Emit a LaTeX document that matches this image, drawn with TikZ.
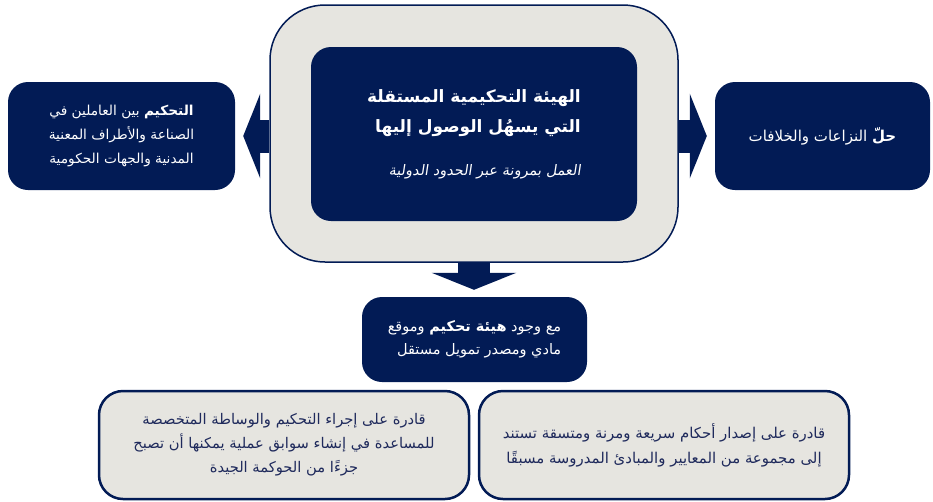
\documentclass[tikz,border=0pt]{standalone}
\usepackage{fontspec}
\usetikzlibrary{arrows.meta, positioning}
\TeXXeTstate=1
\newfontfamily\arabicfont[Script=Arabic]{DejaVu Sans}
\newfontfamily\arabicslant[Script=Arabic, FakeSlant=0.15]{DejaVu Sans}
\definecolor{navy}{HTML}{021B55}
\definecolor{paper}{HTML}{E6E5E0}
\definecolor{inknavy}{HTML}{1F2A5C}

\tikzset{
	darkbox/.style={fill=navy, draw=none, rounded corners=20pt, text=white, align=center,
		font=\arabicfont\fontsize{13.7}{24}\selectfont},
	lightbox/.style={fill=paper, draw=navy, line width=2.5pt, rounded corners=24pt, text=inknavy, align=center,
		font=\arabicfont\fontsize{14.7}{24}\selectfont},
	blockarrow/.style={draw=navy, line width=33pt, -{Triangle[length=17pt, width=84pt]}},
}

\begin{document}
\begin{tikzpicture}[x=1pt, y=-1pt]
	\useasboundingbox (0,0) rectangle (933,501);

	% central body
	\node[lightbox, line width=1.5pt, rounded corners=55pt, minimum width=408pt, minimum height=257pt] (outer) at (474,133.5) {};
	\node[darkbox, align=right, font=\arabicfont\fontsize{17}{30}\selectfont,
		minimum width=326pt, minimum height=174pt] (inner) at (474,134)
		{{\bfseries\beginR الهيئة التحكيمية المستقلة\endR}\\
		 {\bfseries\beginR التي يسهُل الوصول إليها\endR}\\[13pt]
		 {\arabicslant\fontsize{14.5}{20}\selectfont\beginR العمل بمرونة عبر الحدود الدولية\endR}};

	% side boxes
	\node[darkbox, minimum width=227pt, minimum height=108pt] (left) at (121.5,136)
		{\beginR{\bfseries التحكيم} بين العاملين في\endR\\
		 \beginR الصناعة والأطراف المعنية\endR\\
		 \beginR المدنية والجهات الحكومية\endR};
	\node[darkbox, font=\arabicfont\fontsize{15}{24}\selectfont, minimum width=215pt, minimum height=108pt] (right) at (822.5,136)
		{\beginR{\bfseries حلّ} النزاعات والخلافات\endR};

	% lower boxes
	\node[darkbox, align=right, font=\arabicfont\fontsize{14.5}{22.5}\selectfont,
		minimum width=225pt, minimum height=85pt] (mid) at (474.5,339.5)
		{\beginR مع وجود {\bfseries هيئة تحكيم} وموقع\endR\\
		 \beginR مادي ومصدر تمويل مستقل\endR};
	\node[lightbox, minimum width=370pt, minimum height=108pt] (lowleft) at (284,445)
		{\beginR قادرة على إجراء التحكيم والوساطة المتخصصة\endR\\
		 \beginR للمساعدة في إنشاء سوابق عملية يمكنها أن تصبح\endR\\
		 \beginR جزءًا من الحوكمة الجيدة\endR};
	\node[lightbox, font=\arabicfont\fontsize{14.9}{25}\selectfont, minimum width=370pt, minimum height=108pt] (lowright) at (664,445)
		{\beginR قادرة على إصدار أحكام سريعة ومرنة ومتسقة تستند\endR\\
		 \beginR إلى مجموعة من المعايير والمبادئ المدروسة مسبقًا\endR};

	% arrows
	\draw[blockarrow, shorten >=8pt] (outer.west |- left.east) -- (left.east);
	\draw[blockarrow, shorten >=8pt] (outer.east |- right.west) -- (right.west);
	\draw[blockarrow, line width=32pt, shorten >=7pt] (outer.south) -- (outer.south |- mid.north);
\end{tikzpicture}
\end{document}
